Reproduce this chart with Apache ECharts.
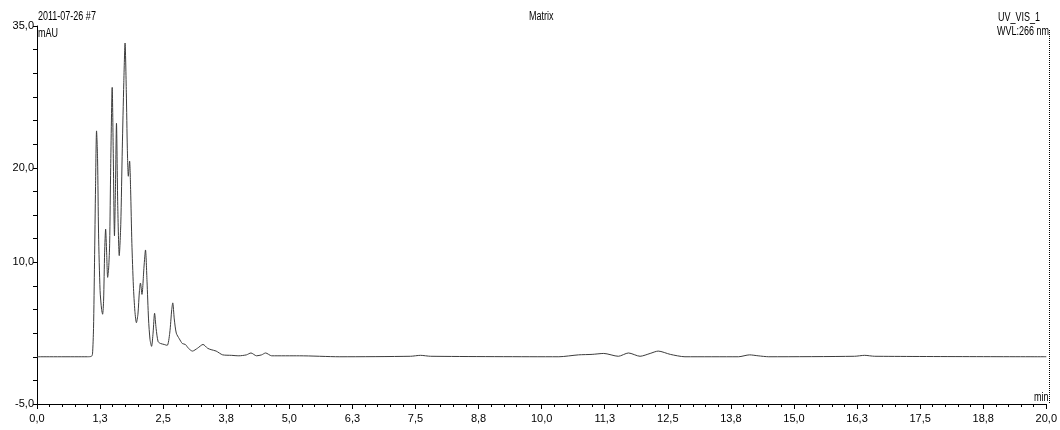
<!DOCTYPE html>
<html>
<head>
<meta charset="utf-8">
<script src="https://cdn.jsdelivr.net/npm/echarts@6/dist/echarts.min.js"></script>
<style>
html,body{margin:0;padding:0;background:#fff;}
#c{width:1060px;height:430px;}
</style>
</head>
<body>
<div id="c"></div>
<script>
// retention time (min)
const times = [
  0.00, 1.00, 1.08, 1.10, 1.12, 1.14, 1.16, 1.18, 1.20, 1.22, 1.25, 1.28, 1.30, 1.32, 1.34, 1.36,
  1.38, 1.40, 1.42, 1.44, 1.46, 1.49, 1.51, 1.535, 1.555, 1.575, 1.60, 1.63, 1.66, 1.69, 1.72,
  1.745, 1.77, 1.79, 1.81, 1.835, 1.855, 1.88, 1.91, 1.94, 1.97, 2.00, 2.03, 2.05, 2.08, 2.12,
  2.15, 2.18, 2.21, 2.24, 2.27, 2.30, 2.33, 2.36, 2.40, 2.45, 2.52, 2.58, 2.63, 2.67, 2.69,
  2.72, 2.76, 2.82, 2.88, 2.94, 3.00, 3.08, 3.18, 3.29, 3.38, 3.45, 3.55, 3.68, 3.85, 4.00,
  4.15, 4.24, 4.35, 4.45, 4.53, 4.65, 5.20, 6.00, 7.40, 7.60, 7.80, 10.34, 10.73, 11.00, 11.23,
  11.52, 11.72, 11.95, 12.15, 12.31, 12.55, 12.84, 13.90, 14.12, 14.29, 14.50, 16.20, 16.40,
  16.60, 20.00
];
// absorbance (mAU)
const signal = [
  0.0, 0.0, 0.05, 0.3, 3.0, 10.0, 18.0, 23.9, 21.0, 13.0, 7.0, 5.0, 4.5, 6.0, 11.0, 13.5,
  11.0, 8.4, 9.4, 12.0, 20.0, 28.5, 22.0, 12.8, 18.0, 24.7, 16.0, 10.7, 14.0, 22.0, 29.0,
  33.2, 28.0, 22.0, 19.1, 20.7, 17.7, 12.0, 7.5, 4.8, 3.6, 4.5, 7.0, 7.8, 6.6, 9.5,
  11.3, 8.0, 4.0, 1.8, 1.1, 2.5, 4.6, 3.0, 1.6, 1.4, 1.3, 1.2, 2.5, 5.0, 5.7,
  4.0, 2.5, 1.9, 1.4, 1.3, 0.9, 0.6, 0.9, 1.3, 0.9, 0.75, 0.6, 0.2, 0.15, 0.1,
  0.2, 0.4, 0.1, 0.2, 0.4, 0.1, 0.1, 0.0, 0.05, 0.15, 0.05, 0.0, 0.2, 0.25, 0.35,
  0.05, 0.4, 0.05, 0.35, 0.6, 0.25, 0.0, 0.0, 0.2, 0.1, 0.0, 0.05, 0.15,
  0.05, 0.0
];
const xTickLabels = ['0,0','1,3','2,5','3,8','5,0','6,3','7,5','8,8','10,0','11,3','12,5','13,8','15,0','16,3','17,5','18,8','20,0'];
const yLabelValues = [-5, 10, 20, 35];
const yLabelTexts = ['-5,0', '10,0', '20,0', '35,0'];

const FONT = "'Liberation Sans', Arial, sans-serif";
const pts = times.map((t, i) => [t, signal[i]]);

const chart = echarts.init(document.getElementById('c'), null, {renderer: 'canvas'});
const txt = (s, x, y) => ({
  type: 'text', x: x, y: y, scaleX: 0.75,
  style: {text: s, font: '12px ' + FONT, fill: '#000', textVerticalAlign: 'top'}
});
chart.setOption({
  animation: false,
  backgroundColor: '#fff',
  grid: {left: 37, right: 11, top: 26, bottom: 26, containLabel: false},
  xAxis: {
    type: 'value', min: 0, max: 20, interval: 1.25,
    axisLine: {show: true, onZero: false, lineStyle: {color: '#000', width: 1}},
    axisTick: {show: true, length: 5, lineStyle: {color: '#000'}},
    minorTick: {show: true, splitNumber: 5, length: 3, lineStyle: {color: '#000'}},
    splitLine: {show: false},
    axisLabel: {
      color: '#000', fontSize: 11, fontFamily: FONT, margin: 9,
      formatter: v => xTickLabels[Math.round(v / 1.25)] || ''
    }
  },
  yAxis: {
    type: 'value', min: -5, max: 35, interval: 2.5,
    axisLine: {show: true, lineStyle: {color: '#000', width: 1}},
    axisTick: {show: true, length: 4, lineStyle: {color: '#000'}},
    splitLine: {show: false},
    axisLabel: {
      color: '#000', fontSize: 11, fontFamily: FONT, margin: 3,
      formatter: v => {
        const i = yLabelValues.findIndex(y => Math.abs(y - v) < 1e-6);
        return i >= 0 ? yLabelTexts[i] : '';
      }
    }
  },
  series: [{
    type: 'line', data: pts, showSymbol: false, smooth: 0.25,
    lineStyle: {color: '#3c3c3c', width: 1},
    z: 3
  }],
  graphic: [
    txt('2011-07-26 #7', 38, 11),
    txt('mAU', 38, 28),
    txt('Matrix', 529, 11),
    txt('UV_VIS_1', 998, 12),
    txt('WVL:266 nm', 997, 26),
    txt('min', 1034, 392),
    {type: 'line', shape: {x1: 1049.5, y1: 30, x2: 1049.5, y2: 404}, style: {stroke: '#000', lineWidth: 1, lineDash: [1, 1]}}
  ]
});
</script>
</body>
</html>
